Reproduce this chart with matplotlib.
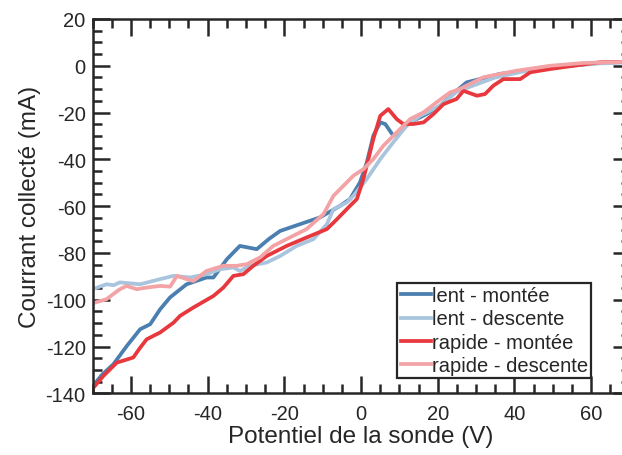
import numpy as np
import matplotlib.pyplot as plt
from matplotlib.ticker import MultipleLocator

plt.rcParams['font.family'] = ['Liberation Sans', 'DejaVu Sans']
plt.rcParams['axes.unicode_minus'] = False

# lent - montee
V_lm = [-70, -67.5, -64.6, -61.1, -57.6, -55, -52.4, -49.8, -45.5, -40.3, -38.5, -35, -31.6, -27.2,
        -24, -21.1, -15.9, -10.7, -5.5, -2.9, -0.3, 1.5, 3.2, 5, 6.3, 8.4, 10.2, 12.8, 17.1, 20.6,
        24.9, 27.5, 36.2, 45, 53.6, 62.3, 70]
I_lm = [-137, -132, -127.6, -119.8, -112.6, -110.5, -104.1, -99, -93.4, -90.5, -90.5, -82.7, -77,
        -78.4, -74, -70.6, -67.7, -64.8, -59.9, -57, -49.9, -41.3, -29.9, -24.2, -24.9, -29.9,
        -27.8, -24.2, -20.6, -17.1, -10.7, -7.1, -3.5, -1.4, 0, 1.2, 1.7]

# lent - descente
V_ld = [-70, -66.4, -64.5, -62.9, -57.6, -52.4, -48.9, -44.6, -40.3, -36.8, -33.3, -31.6, -29,
        -24.6, -21.1, -16.8, -12.4, -8.9, -7.2, -3.7, -2, 1.5, 5, 8.4, 11.9, 15.4, 20.6, 25,
        30, 35, 45, 55, 62, 70]
I_ld = [-95.5, -93.4, -93.8, -92.6, -93.4, -91.2, -89.8, -90.5, -89.1, -87, -86.2, -87.7, -85.5,
        -84.1, -81.3, -77, -74.1, -67.7, -61.3, -58.4, -55.6, -48.4, -39.9, -32.7, -25.6, -21.4,
        -17.1, -11, -8, -5, -1.5, 0, 1, 1.5]

# rapide - montee
V_rm = [-70, -67.2, -63.7, -59.4, -57.6, -55.9, -52.4, -48.9, -47.2, -43.7, -38.5, -35.9, -33.3,
        -30.7, -28.1, -24.6, -19.4, -14.2, -8.9, -6.3, -2.9, -1.1, 0.6, 1.9, 3.2, 5, 7.1, 9.3,
        11, 13.6, 16.3, 18.9, 21.5, 24.9, 26.7, 30.2, 32.3, 34.5, 37.1, 41.5, 44.1, 49.3, 55.4,
        62.3, 70]
I_rm = [-138, -132.6, -126.9, -124.7, -120.5, -116.9, -114, -109.8, -106.9, -103.3, -98.4, -94.8,
        -89.8, -89.1, -85.5, -81.3, -77, -73.4, -69.8, -65.6, -59.9, -57, -48.4, -39.9, -31.3,
        -21.4, -18.5, -22.8, -24.9, -24.9, -24.2, -20.6, -16.4, -14.2, -10.7, -12.8, -12.1,
        -8.5, -5.7, -5.7, -2.8, -1.4, 0, 1.5, 1.7]

# rapide - descente
V_rd = [-70, -66.4, -62.9, -61.1, -58.5, -55.9, -52.4, -49.8, -48, -45.5, -43.7, -40.3, -35.9,
        -32.4, -29.8, -26.3, -22.9, -19.4, -14.2, -9.8, -7.2, -4.6, -2, 0.6, 3.2, 5.8, 9.3,
        12.8, 16.3, 19.7, 23.2, 25.8, 31.9, 40.6, 49.3, 58, 70]
I_rd = [-101.5, -99.8, -95.5, -94.1, -95.5, -94.8, -94.1, -94.4, -89.8, -91.2, -92, -87.7, -85.5,
        -85.5, -84.8, -81.9, -77, -74.1, -69.8, -63.4, -55.6, -51.3, -47, -44.2, -39.9, -34.2,
        -28.5, -22.8, -19.9, -15.6, -11.4, -9.9, -4.9, -2.1, 0, 1.2, 1.7]

fig = plt.figure(figsize=(6.22, 4.56), dpi=100)
ax = fig.add_axes([0.1489, 0.1353, 0.8632, 0.8209])

lw = 2.7
ax.plot(V_lm, I_lm, color='#4a7fb0', lw=lw, label='lent - montée')
ax.plot(V_ld, I_ld, color='#a9c5de', lw=lw, label='lent - descente')
ax.plot(V_rm, I_rm, color='#e8383d', lw=lw, label='rapide - montée')
ax.plot(V_rd, I_rd, color='#f3a3a6', lw=lw, label='rapide - descente')

ax.set_xlim(-70, 70)
ax.set_ylim(-140, 20)
ax.xaxis.set_major_locator(MultipleLocator(20))
ax.xaxis.set_minor_locator(MultipleLocator(5))
ax.yaxis.set_major_locator(MultipleLocator(20))
ax.yaxis.set_minor_locator(MultipleLocator(5))

tc = '#262626'
for s in ax.spines.values():
    s.set_linewidth(1.8)
    s.set_color(tc)
ax.tick_params(which='both', direction='in', top=True, right=True, width=1.8, color=tc,
               labelsize=14.5, labelcolor=tc)
ax.tick_params(which='major', length=12)
ax.tick_params(which='minor', length=6.5)
ax.tick_params(axis='x', pad=8)
ax.tick_params(axis='y', pad=5)

ax.set_xlabel('Potentiel de la sonde (V)', fontsize=17.5, color=tc, labelpad=1)
ax.set_ylabel('Courrant collecté (mA)', fontsize=17.5, color=tc, labelpad=3)

leg = ax.legend(loc='lower right', bbox_to_anchor=(0.928, 0.041), fontsize=14.5,
                handlelength=1.5, handletextpad=0.05, borderpad=0.15, labelspacing=0.22,
                borderaxespad=0, fancybox=False, framealpha=1, handleheight=0.5)
leg.get_frame().set_edgecolor(tc)
leg.get_frame().set_linewidth(1.6)
for t in leg.get_texts():
    t.set_color(tc)

fig.savefig('out.png', dpi=100)
